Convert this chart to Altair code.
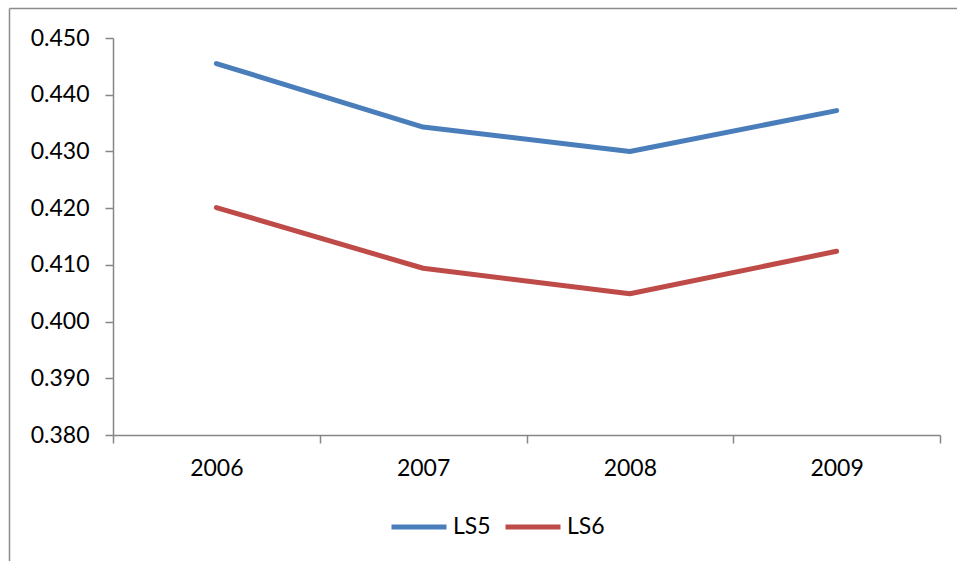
import altair as alt
import pandas as pd

# Yearly values for the two series
years = ["2006", "2007", "2008", "2009"]
ls5 = [0.4455, 0.4343, 0.4300, 0.4372]
ls6 = [0.4201, 0.4094, 0.4049, 0.4124]
series_names = ["LS5", "LS6"]
series_colors = ["#4A7EBB", "#BE4B48"]

df = pd.DataFrame(
    [{"year": y, "series": "LS5", "value": v} for y, v in zip(years, ls5)]
    + [{"year": y, "series": "LS6", "value": v} for y, v in zip(years, ls6)]
)

FONT = "Lato"
FONT_SIZE = 23
AXIS_GREY = "#868686"

lines = alt.Chart(df).mark_line(strokeWidth=5, strokeCap="round", strokeJoin="round").encode(
    x=alt.X(
        "year:O",
        title=None,
        scale=alt.Scale(paddingInner=0, paddingOuter=0),
        axis=alt.Axis(
            labelAngle=0,
            tickBand="extent",
            tickSize=8,
            labelPadding=14,
            labelFont=FONT,
            labelFontSize=FONT_SIZE,
            labelColor="#000000",
            domainColor=AXIS_GREY,
            tickColor=AXIS_GREY,
            domainWidth=1.5,
            tickWidth=1.5,
        ),
    ),
    y=alt.Y(
        "value:Q",
        title=None,
        scale=alt.Scale(domain=[0.38, 0.45], nice=False, zero=False),
        axis=alt.Axis(
            values=[0.38, 0.39, 0.40, 0.41, 0.42, 0.43, 0.44, 0.45],
            format=".3f",
            tickSize=8,
            labelPadding=16,
            labelFont=FONT,
            labelFontSize=FONT_SIZE,
            labelColor="#000000",
            domainColor=AXIS_GREY,
            tickColor=AXIS_GREY,
            domainWidth=1.5,
            tickWidth=1.5,
            grid=False,
        ),
    ),
    color=alt.Color(
        "series:N",
        scale=alt.Scale(domain=series_names, range=series_colors),
        legend=alt.Legend(
            title=None,
            orient="none",
            direction="horizontal",
            legendX=276,
            legendY=459,
            symbolType="stroke",
            symbolSize=3025,
            symbolStrokeWidth=5,
            labelFontSize=FONT_SIZE,
            labelFont=FONT,
            labelColor="#000000",
            columnPadding=4,
            labelOffset=4,
        ),
    ),
)

# Outer frame of the chart (left and top edges)
frame_df = pd.DataFrame({"k": [0]})
frame_left = alt.Chart(frame_df).mark_rule(color="#8c8c8c", strokeWidth=1.5, clip=False).encode(
    x=alt.value(-103.5), y=alt.value(-29.5), y2=alt.value(530)
)
frame_top = alt.Chart(frame_df).mark_rule(color="#8c8c8c", strokeWidth=1.5, clip=False).encode(
    x=alt.value(-103.5), x2=alt.value(850), y=alt.value(-29.5)
)

chart = (
    alt.layer(frame_left, frame_top, lines)
    .properties(
        width=827,
        height=397,
        background="#ffffff",
        autosize=alt.AutoSizeParams(type="none"),
        padding={"left": 113, "top": 38, "right": 17, "bottom": 126},
    )
    .configure_view(stroke=None)
)

chart.save("out.html", embed_options={"renderer": "svg", "actions": False})
